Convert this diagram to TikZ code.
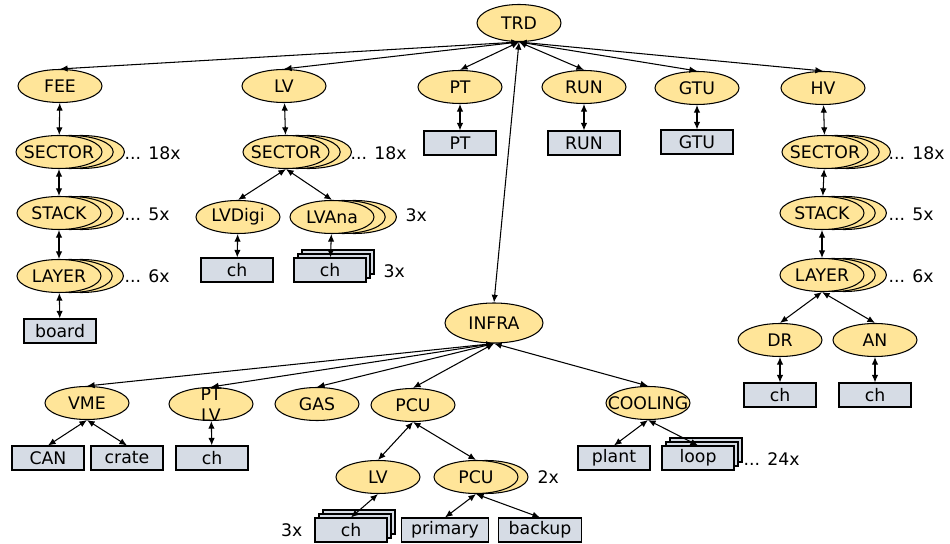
\documentclass[tikz,border=0pt]{standalone}
\usepackage{fontspec}
\setmainfont{DejaVu Sans}
\usetikzlibrary{shapes.geometric}
\usetikzlibrary{arrows.meta}
\usetikzlibrary{shadows}

\definecolor{ellfill}{RGB}{255,229,153}
\definecolor{boxfill}{RGB}{214,220,229}
\newcommand{\cbox}[1]{\makebox[0pt]{#1}}

\tikzset{
    obj/.style={ellipse, draw, fill=ellfill, inner sep=0pt, minimum width=2.1cm, minimum height=0.825cm},
    wide/.style={minimum width=2.15cm},
    chan/.style={rectangle, draw, fill=boxfill, inner xsep=0.25cm, inner ysep=0pt, minimum width=1.8cm, minimum height=0.6cm},
    many/.style={double copy shadow={shadow xshift=0.28cm, shadow yshift=0pt}},
    two/.style={copy shadow={shadow xshift=0.25cm, shadow yshift=0pt}},
    pile/.style={double copy shadow={shadow xshift=0.1cm, shadow yshift=0.1cm}},
    link/.style={<->, >={Latex[length=1.9mm, width=1.6mm]}},
    count/.style={right, inner sep=0pt},
}

\begin{document}
\begin{tikzpicture}[x=0.025cm, y=-0.025cm, line width=0.75pt, font=\fontsize{12.3}{15}\selectfont]
    \useasboundingbox (0,0) rectangle (950,544);

    % top row
    \node[obj, minimum height=0.925cm] (trd) at (519,23) {\cbox{TRD}};
    \node[obj] (fee) at (60,86) {\cbox{FEE}};
    \node[obj] (lv) at (284,86) {\cbox{LV}};
    \node[obj] (pt) at (460,87) {\cbox{PT}};
    \node[obj] (run) at (584,87) {\cbox{RUN}};
    \node[obj] (gtu) at (697,88) {\cbox{GTU}};
    \node[obj] (hv) at (823,88) {\cbox{HV}};

    % FEE
    \node[obj, wide, many] (feesec) at (59,152) {\cbox{SECTOR}};
    \node[obj, many] (feestk) at (59,213) {\cbox{STACK}};
    \node[obj, many] (feelay) at (59,276) {\cbox{LAYER}};
    \node[chan] (board) at (60,331) {board};
    \node[count] (feesecn) at (124,153.5) {... 18x};
    \node[count] (feestkn) at (124,214) {... 5x};
    \node[count] (feelayn) at (124,276) {... 6x};

    % LV
    \node[obj, wide, many] (lvsec) at (286,152) {\cbox{SECTOR}};
    \node[obj] (lvdigi) at (238,217) {\cbox{LVDigi}};
    \node[obj, many] (lvana) at (332,217) {\cbox{LVAna}};
    \node[chan] (digich) at (237,270) {ch};
    \node[chan, pile] (anach) at (330,270) {ch};
    \node[count] (lvsecn) at (350,153.5) {... 18x};
    \node[count] (lvanan) at (405,215) {3x};
    \node[count] (anachn) at (383,271) {3x};

    % PT, RUN, GTU
    \node[chan] (ptbox) at (460,143) {PT};
    \node[chan] (runbox) at (584,143) {RUN};
    \node[chan] (gtubox) at (697,142) {GTU};

    % HV
    \node[obj, wide, many] (hvsec) at (825,152) {\cbox{SECTOR}};
    \node[obj, many] (hvstk) at (822,213) {\cbox{STACK}};
    \node[obj, many] (hvlay) at (822,275) {\cbox{LAYER}};
    \node[obj] (dr) at (780,340) {\cbox{DR}};
    \node[obj] (an) at (875,340) {\cbox{AN}};
    \node[chan] (drch) at (780,395) {ch};
    \node[chan] (anch) at (875,395) {ch};
    \node[count] (hvsecn) at (888,153.5) {... 18x};
    \node[count] (hvstkn) at (888,214) {... 5x};
    \node[count] (hvlayn) at (888,276) {... 6x};

    % INFRA
    \node[obj, minimum width=2.45cm, minimum height=1cm] (infra) at (494,323) {\cbox{INFRA}};
    \node[obj] (vme) at (87,403) {\cbox{VME}};
    \node[obj] (ptlv) at (211,404) {\cbox{\smash{\raisebox{-5pt}{\begin{tabular}{@{}c@{}}PT\\LV\end{tabular}}}}};
    \node[obj] (gas) at (317,404) {\cbox{GAS}};
    \node[obj] (pcu) at (413,405) {\cbox{PCU}};
    \node[obj] (cool) at (648,403) {\cbox{COOLING}};
    \node[chan] (can) at (48,458) {CAN};
    \node[chan] (crate) at (127,458) {crate};
    \node[chan] (ptlvch) at (212,458) {ch};
    \node[obj] (pculv) at (378,477) {\cbox{LV}};
    \node[obj, two] (pcupcu) at (476,477) {\cbox{PCU}};
    \node[count] (pcun) at (537,477) {2x};
    \node[chan, pile] (pculvch) at (351,530) {ch};
    \node[left, inner sep=0pt] (pculvchn) at (303,530) {3x};
    \node[chan] (primary) at (445,530) {primary};
    \node[chan] (backup) at (540,530) {backup};
    \node[chan] (plant) at (614,458) {plant};
    \node[chan, pile] (loop) at (698,458) {loop};
    \node[count] (loopn) at (743,459) {... 24x};

    % links
    \draw[link] (trd.south) -- (fee.north);
    \draw[link] (trd.south) -- (lv.north);
    \draw[link] (trd.south) -- (pt.north);
    \draw[link] (trd.south) -- (run.north);
    \draw[link] (trd.south) -- (gtu.north);
    \draw[link] (trd.south) -- (hv.north);
    \draw[link] (trd.south) -- (infra.north);

    \draw[link] (fee) -- (feesec);
    \draw[link] (feesec) -- (feestk);
    \draw[link] (feestk) -- (feelay);
    \draw[link] (feelay) -- (board);

    \draw[link] (lv) -- (lvsec);
    \draw[link] (lvsec.south) -- (lvdigi.north);
    \draw[link] (lvsec.south) -- (lvana.north);
    \draw[link] (lvdigi) -- (digich);
    \draw[link] (lvana) -- (anach);

    \draw[link] (pt) -- (ptbox);
    \draw[link] (run) -- (runbox);
    \draw[link] (gtu) -- (gtubox);

    \draw[link] (hv) -- (hvsec);
    \draw[link] (hvsec) -- (hvstk);
    \draw[link] (hvstk) -- (hvlay);
    \draw[link] (hvlay.south) -- (dr.north);
    \draw[link] (hvlay.south) -- (an.north);
    \draw[link] (dr) -- (drch);
    \draw[link] (an) -- (anch);

    \draw[link] (infra.south) -- (vme.north);
    \draw[link] (infra.south) -- (ptlv.north);
    \draw[link] (infra.south) -- (gas.north);
    \draw[link] (infra.south) -- (pcu.north);
    \draw[link] (infra.south) -- (cool.north);
    \draw[link] (vme.south) -- (can.north);
    \draw[link] (vme.south) -- (crate.north);
    \draw[link] (ptlv) -- (ptlvch);
    \draw[link] (pcu.south) -- (pculv.north);
    \draw[link] (pcu.south) -- (pcupcu.north);
    \draw[link] (pculv.south) -- (pculvch.north);
    \draw[link] (pcupcu.south) -- (primary.north);
    \draw[link] (pcupcu.south) -- (backup.north);
    \draw[link] (cool.south) -- (plant.north);
    \draw[link] (cool.south) -- (loop.north);
\end{tikzpicture}
\end{document}
